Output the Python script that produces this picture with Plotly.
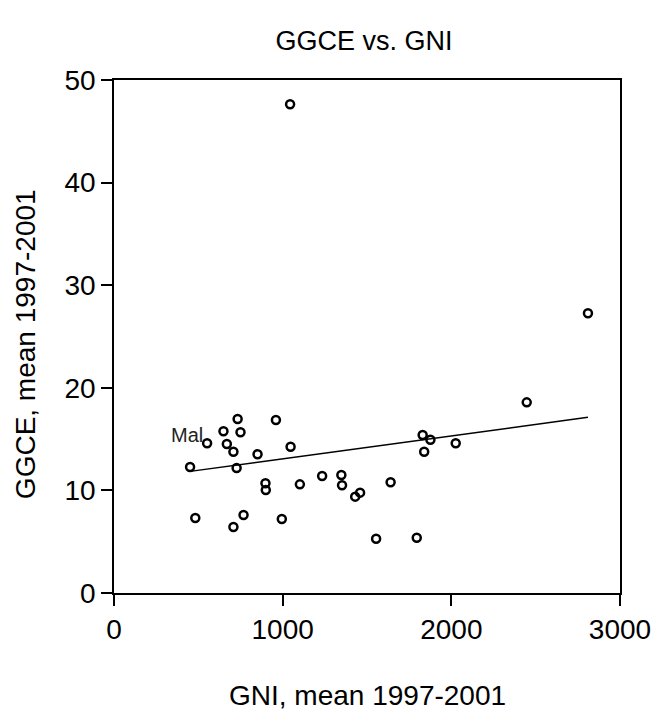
# GGCE vs. GNI scatter with a linear fit line
import numpy as np
import plotly.graph_objects as go

# GNI, mean 1997-2001
gni = [733, 960, 649, 750, 552, 669, 708, 1047, 851, 451, 727, 898, 900,
       1102, 1234, 1348, 1352, 1430, 1459, 482, 768, 708, 995, 1830, 1876,
       1839, 2026, 2447, 1640, 1554, 1795, 1044, 2810]
# GGCE, mean 1997-2001
ggce = [16.96, 16.86, 15.76, 15.66, 14.59, 14.52, 13.77, 14.26, 13.52, 12.28,
        12.18, 10.69, 10.04, 10.59, 11.40, 11.50, 10.50, 9.39, 9.78, 7.31,
        7.60, 6.43, 7.21, 15.40, 14.94, 13.77, 14.59, 18.58, 10.79, 5.29,
        5.39, 47.63, 27.26]
labelled_point = 4  # index of the point tagged in the chart
label_text = 'Mal'

x_ticks = [0, 1000, 2000, 3000]
y_ticks = [0, 10, 20, 30, 40, 50]

FONT = 'Liberation Sans, Arial, sans-serif'

# linear fit over the observed range
slope, intercept = np.polyfit(gni, ggce, 1)
fit_x = np.sort(np.array(gni, dtype=float))
fit_y = intercept + slope * fit_x

fig = go.Figure()

fig.add_trace(go.Scatter(
    x=fit_x,
    y=fit_y,
    mode='lines',
    line=dict(color='black', width=1.5),
    showlegend=False
))

fig.add_trace(go.Scatter(
    x=gni,
    y=ggce,
    mode='markers',
    marker=dict(symbol='circle-open', size=8, color='black',
                line=dict(color='black', width=2.5)),
    showlegend=False
))

axis_style = dict(
    showgrid=False,
    zeroline=False,
    showline=True,
    linecolor='black',
    linewidth=1.5,
    mirror=True,
    ticks='outside',
    ticklen=11,
    tickwidth=1.5,
    tickcolor='black',
    tickfont=dict(family=FONT, size=28, color='black'),
)

# the page adds an 8px body margin, so the figure is 8px smaller
fig.update_layout(
    width=655,
    height=703,
    margin=dict(l=106, r=34, t=72, b=118),
    paper_bgcolor='white',
    plot_bgcolor='white',
    title=dict(
        text='GGCE vs. GNI',
        x=0.494,
        xref='paper',
        y=0.953,
        yref='container',
        xanchor='center',
        yanchor='middle',
        font=dict(family=FONT, size=27, color='black')
    ),
    xaxis=dict(range=[0, 3000], tickvals=x_ticks, **axis_style),
    yaxis=dict(range=[0, 50], tickvals=y_ticks, **axis_style),
    annotations=[
        dict(text=label_text, x=gni[labelled_point], y=ggce[labelled_point],
             xanchor='right', yanchor='bottom', xshift=-2, yshift=-5,
             showarrow=False, font=dict(family=FONT, size=20, color='#222')),
        dict(text='GNI, mean 1997-2001', xref='paper', yref='paper',
             x=0.5, y=-0.2, xanchor='center', yanchor='middle',
             showarrow=False, font=dict(family=FONT, size=28, color='black')),
        dict(text='GGCE, mean 1997-2001', xref='paper', yref='paper',
             x=-0.176, y=0.485, xanchor='center', yanchor='middle',
             textangle=-90, showarrow=False,
             font=dict(family=FONT, size=28, color='black')),
    ]
)

fig.write_html('out.html')
